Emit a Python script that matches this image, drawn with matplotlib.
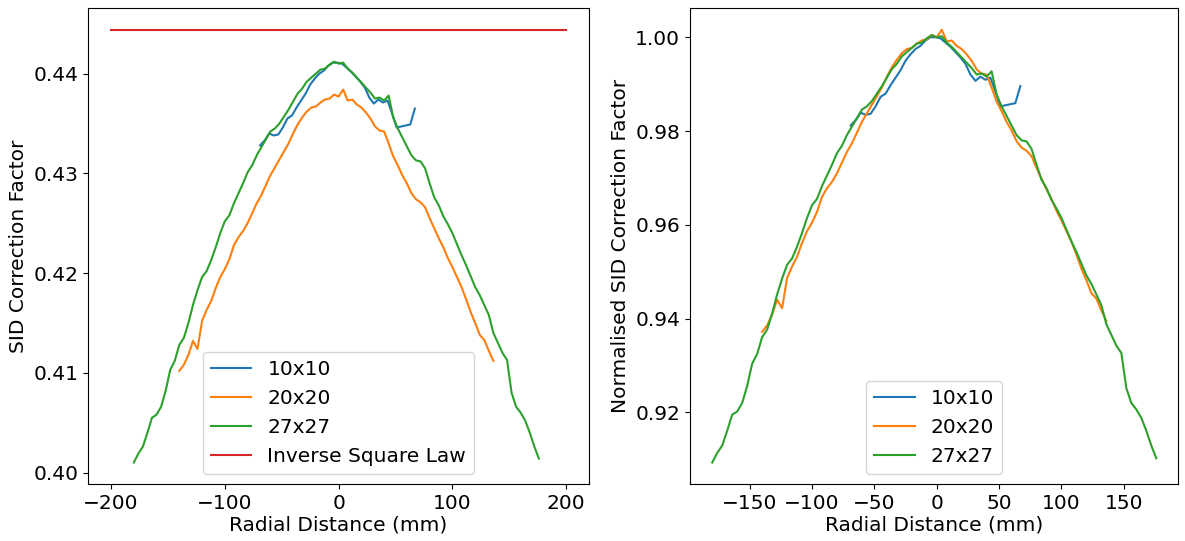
import numpy as np
import matplotlib
matplotlib.use("Agg")
import matplotlib.pyplot as plt
from matplotlib.ticker import MultipleLocator

# === DATA ===
x_10 = np.arange(-69, 70, 4)
sid_10 = [0.4328, 0.4333, 0.4340, 0.4338, 0.4339, 0.4346, 0.4355, 0.4358, 0.4366,
          0.4373, 0.4380, 0.4389, 0.4395, 0.4400, 0.4403, 0.4408, 0.4411, 0.4411,
          0.4410, 0.4406, 0.4402, 0.4397, 0.4392, 0.4386, 0.4376, 0.4370, 0.4374,
          0.4371, 0.4373, 0.4360, 0.4346, 0.4347, 0.4348, 0.4349, 0.4365]

x_20 = np.arange(-140, 140, 4)
sid_20 = [0.4102, 0.4108, 0.4118, 0.4132, 0.4124, 0.4152, 0.4163, 0.4172, 0.4185,
          0.4196, 0.4204, 0.4214, 0.4228, 0.4236, 0.4242, 0.4250, 0.4260, 0.4270,
          0.4278, 0.4288, 0.4298, 0.4306, 0.4314, 0.4322, 0.4330, 0.4340, 0.4349,
          0.4356, 0.4362, 0.4366, 0.4367, 0.4371, 0.4374, 0.4375, 0.4379, 0.4377,
          0.4384, 0.4373, 0.4374, 0.4369, 0.4366, 0.4361, 0.4355, 0.4347, 0.4343,
          0.4342, 0.4330, 0.4317, 0.4308, 0.4298, 0.4290, 0.4280, 0.4274, 0.4271,
          0.4266, 0.4255, 0.4245, 0.4235, 0.4226, 0.4215, 0.4206, 0.4196, 0.4186,
          0.4174, 0.4161, 0.4150, 0.4138, 0.4133, 0.4122, 0.4112]

x_27 = np.arange(-180, 177, 4)
sid_27 = [0.4010, 0.4019, 0.4026, 0.4040, 0.4055, 0.4058, 0.4066, 0.4082, 0.4103,
          0.4112, 0.4128, 0.4135, 0.4150, 0.4168, 0.4183, 0.4196, 0.4202, 0.4213,
          0.4226, 0.4240, 0.4252, 0.4258, 0.4270, 0.4280, 0.4290, 0.4301, 0.4308,
          0.4318, 0.4326, 0.4334, 0.4342, 0.4345, 0.4350, 0.4357, 0.4364, 0.4372,
          0.4380, 0.4385, 0.4392, 0.4396, 0.4400, 0.4404, 0.4405, 0.4409, 0.4412,
          0.4410, 0.4411, 0.4405, 0.4401, 0.4396, 0.4391, 0.4386, 0.4381, 0.4375,
          0.4376, 0.4373, 0.4378, 0.4356, 0.4345, 0.4336, 0.4327, 0.4318, 0.4313,
          0.4312, 0.4305, 0.4290, 0.4276, 0.4268, 0.4257, 0.4249, 0.4240, 0.4229,
          0.4218, 0.4208, 0.4197, 0.4186, 0.4178, 0.4168, 0.4158, 0.4140, 0.4130,
          0.4120, 0.4113, 0.4080, 0.4066, 0.4060, 0.4052, 0.4040, 0.4026, 0.4014]

isl_x = [-200, 200]
isl_y = [0.4444, 0.4444]

series = [("10x10", x_10, sid_10), ("20x20", x_20, sid_20), ("27x27", x_27, sid_27)]

plt.rcParams["font.size"] = 14.5

fig = plt.figure(figsize=(11.85, 5.41), dpi=100)
ax1 = fig.add_axes([0.0745, 0.105, 0.4225, 0.880])
ax2 = fig.add_axes([0.5823, 0.105, 0.4122, 0.880])

# === LEFT: raw factors ===
for name, x, y in series:
    ax1.plot(x, y, label=name)
ax1.plot(isl_x, isl_y, color="C3", label="Inverse Square Law")
ax1.set_xlabel("Radial Distance (mm)", labelpad=2)
ax1.set_ylabel("SID Correction Factor")
ax1.xaxis.set_major_locator(MultipleLocator(100))
ax1.yaxis.set_major_locator(MultipleLocator(0.01))
ax1.legend(loc="lower center")

# === RIGHT: normalised to the central value ===
for name, x, y in series:
    y = np.asarray(y)
    centre = y[np.argmin(np.abs(x))]
    ax2.plot(x, y / centre, label=name)
ax2.set_xlabel("Radial Distance (mm)", labelpad=2)
ax2.set_ylabel("Normalised SID Correction Factor")
ax2.xaxis.set_major_locator(MultipleLocator(50))
ax2.yaxis.set_major_locator(MultipleLocator(0.02))
ax2.legend(loc="lower center")

fig.savefig("out.png", dpi=100)
